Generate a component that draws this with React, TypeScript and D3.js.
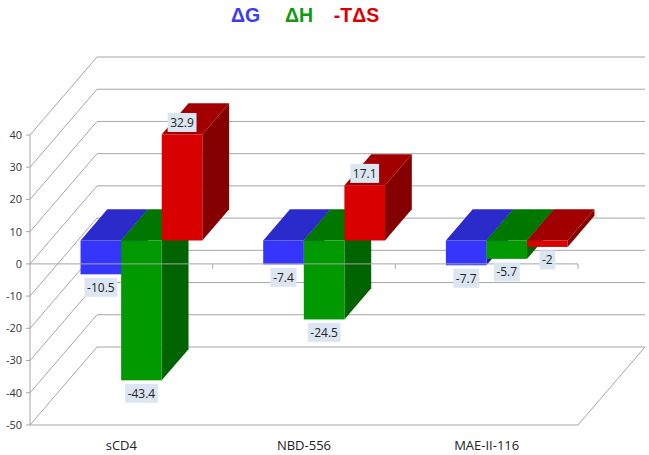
import React, { useRef, useEffect } from 'react';
import * as d3 from 'd3';

// ==================== DATA ====================
const categories = ['sCD4', 'NBD-556', 'MAE-II-116'];
const seriesNames = ['ΔG', 'ΔH', '-TΔS'];
const dG = [-10.5, -7.4, -7.7];
const dH = [-43.4, -24.5, -5.7];
const mTdS = [32.9, 17.1, -2];
const yTicks = [-50, -40, -30, -20, -10, 0, 10, 20, 30, 40];

// ==================== STYLE ====================
const W = 649;
const H = 455;
const COLORS = [
    { front: '#3535fb', top: '#2b2bcc', side: '#1f1f99' },
    { front: '#009900', top: '#007800', side: '#006400' },
    { front: '#d80000', top: '#a20000', side: '#850000' },
];
const GRID = '#a6a6a6';
const LABEL_FONT = "'Open Sans', 'Noto Sans', sans-serif";

const App = () => {
    const svgRef = useRef<SVGSVGElement | null>(null);

    useEffect(() => {
        const svg = d3.select(svgRef.current);
        svg.selectAll('*').remove();

        // front plane of the plot and depth vector
        const fx0 = 30, fx1 = 578;
        const DX = 67, DY = 78;
        const y = d3.scaleLinear().domain([-50, 40]).range([425, 135]);
        const x = d3.scaleBand<string>().domain(categories).range([fx0, fx1]);
        const xs = d3.scaleBand<string>().domain(seriesNames)
            .range([0, x.bandwidth()]).paddingInner(0).paddingOuter(0.75);

        // project (front x, value, depth 0..1) -> screen
        const P = (fx: number, v: number, d: number): [number, number] => [fx + d * DX, y(v) - d * DY];
        const pts = (arr: [number, number][]) => arr.map(p => p.join(',')).join(' ');

        const g = svg.append('g');

        // walls: diagonals + back gridlines
        yTicks.forEach(t => {
            const a = P(fx0, t, 0), b = P(fx0, t, 1), c = P(fx1, t, 1);
            g.append('polyline')
                .attr('points', pts([a, b, c]))
                .attr('fill', 'none').attr('stroke', GRID).attr('stroke-width', 1);
            // tick mark + label
            g.append('line').attr('x1', fx0 - 4).attr('x2', fx0).attr('y1', a[1]).attr('y2', a[1])
                .attr('stroke', GRID);
            g.append('text')
                .attr('x', fx0 - 8).attr('y', a[1]).attr('dy', '0.35em')
                .attr('text-anchor', 'end')
                .attr('font-family', LABEL_FONT).attr('font-size', 11).attr('fill', '#333')
                .text(t);
        });
        // floor front + right edge
        g.append('polyline')
            .attr('points', pts([P(fx0, -50, 0), P(fx1, -50, 0), P(fx1, -50, 1)]))
            .attr('fill', 'none').attr('stroke', GRID);
        // vertical axis
        g.append('line').attr('x1', fx0).attr('x2', fx0).attr('y1', y(-50)).attr('y2', y(40))
            .attr('stroke', GRID);

        // bars
        const values = [dG, dH, mTdS];
        const d1 = 0.3, d2 = 0.7;
        const labels: { x: number; y: number; v: number }[] = [];
        categories.forEach((cat, ci) => {
            seriesNames.forEach((s, si) => {
                const v = values[si][ci];
                const c = COLORS[si];
                const xl = (x(cat) as number) + (xs(s) as number);
                const xr = xl + xs.bandwidth();
                const top = Math.max(0, v), bot = Math.min(0, v);
                // right side
                g.append('polygon')
                    .attr('points', pts([P(xr, top, d1), P(xr, top, d2), P(xr, bot, d2), P(xr, bot, d1)]))
                    .attr('fill', c.side);
                // top face
                g.append('polygon')
                    .attr('points', pts([P(xl, top, d1), P(xr, top, d1), P(xr, top, d2), P(xl, top, d2)]))
                    .attr('fill', c.top);
                // front face
                const [fxL, fyT] = P(xl, top, d1);
                const [fxR, fyB] = P(xr, bot, d1);
                g.append('rect')
                    .attr('x', fxL).attr('y', fyT)
                    .attr('width', fxR - fxL).attr('height', Math.max(0.5, fyB - fyT))
                    .attr('fill', c.front);
                const cx = (fxL + fxR) / 2;
                labels.push({ x: cx, y: v >= 0 ? fyT - 12 : fyB + 13, v });
            });
        });

        // category axis at zero (front plane)
        g.append('line').attr('x1', fx0).attr('x2', fx1).attr('y1', y(0)).attr('y2', y(0))
            .attr('stroke', GRID);
        categories.forEach(cat => {
            const xe = (x(cat) as number) + x.bandwidth();
            g.append('line').attr('x1', xe).attr('x2', xe).attr('y1', y(0)).attr('y2', y(0) + 5)
                .attr('stroke', GRID);
            g.append('text')
                .attr('x', (x(cat) as number) + x.bandwidth() / 2).attr('y', 450)
                .attr('text-anchor', 'middle')
                .attr('font-family', LABEL_FONT).attr('font-size', 13).attr('fill', '#222')
                .text(cat);
        });

        // data labels
        labels.forEach(l => {
            const lg = g.append('g').attr('transform', `translate(${l.x},${l.y})`);
            const txt = lg.append('text')
                .attr('text-anchor', 'middle').attr('dy', '0.35em')
                .attr('font-family', LABEL_FONT).attr('font-size', 12).attr('fill', '#222')
                .text(String(l.v));
            const bb = (txt.node() as SVGTextElement).getBBox();
            lg.insert('rect', 'text')
                .attr('x', bb.x - 2.5).attr('y', -9.5)
                .attr('width', bb.width + 5).attr('height', 19)
                .attr('fill', '#dce6f2');
        });

        // legend / title
        const legendX = [245.5, 299, 356.5];
        const legendColors = ['#3b3bf5', '#119911', '#dd0000'];
        seriesNames.forEach((s, i) => {
            g.append('text')
                .attr('x', legendX[i]).attr('y', 22)
                .attr('text-anchor', 'middle')
                .attr('font-family', "'Liberation Sans', Arial, sans-serif")
                .attr('font-weight', 'bold').attr('font-size', 19.5)
                .attr('fill', legendColors[i])
                .text(s);
        });
    }, []);

    return (
        <div style={{ position: 'fixed', left: 0, top: 0, width: W, height: H, background: '#fff' }}>
            <svg ref={svgRef} width={W} height={H} style={{ display: 'block' }} />
        </div>
    );
};

export default App;
